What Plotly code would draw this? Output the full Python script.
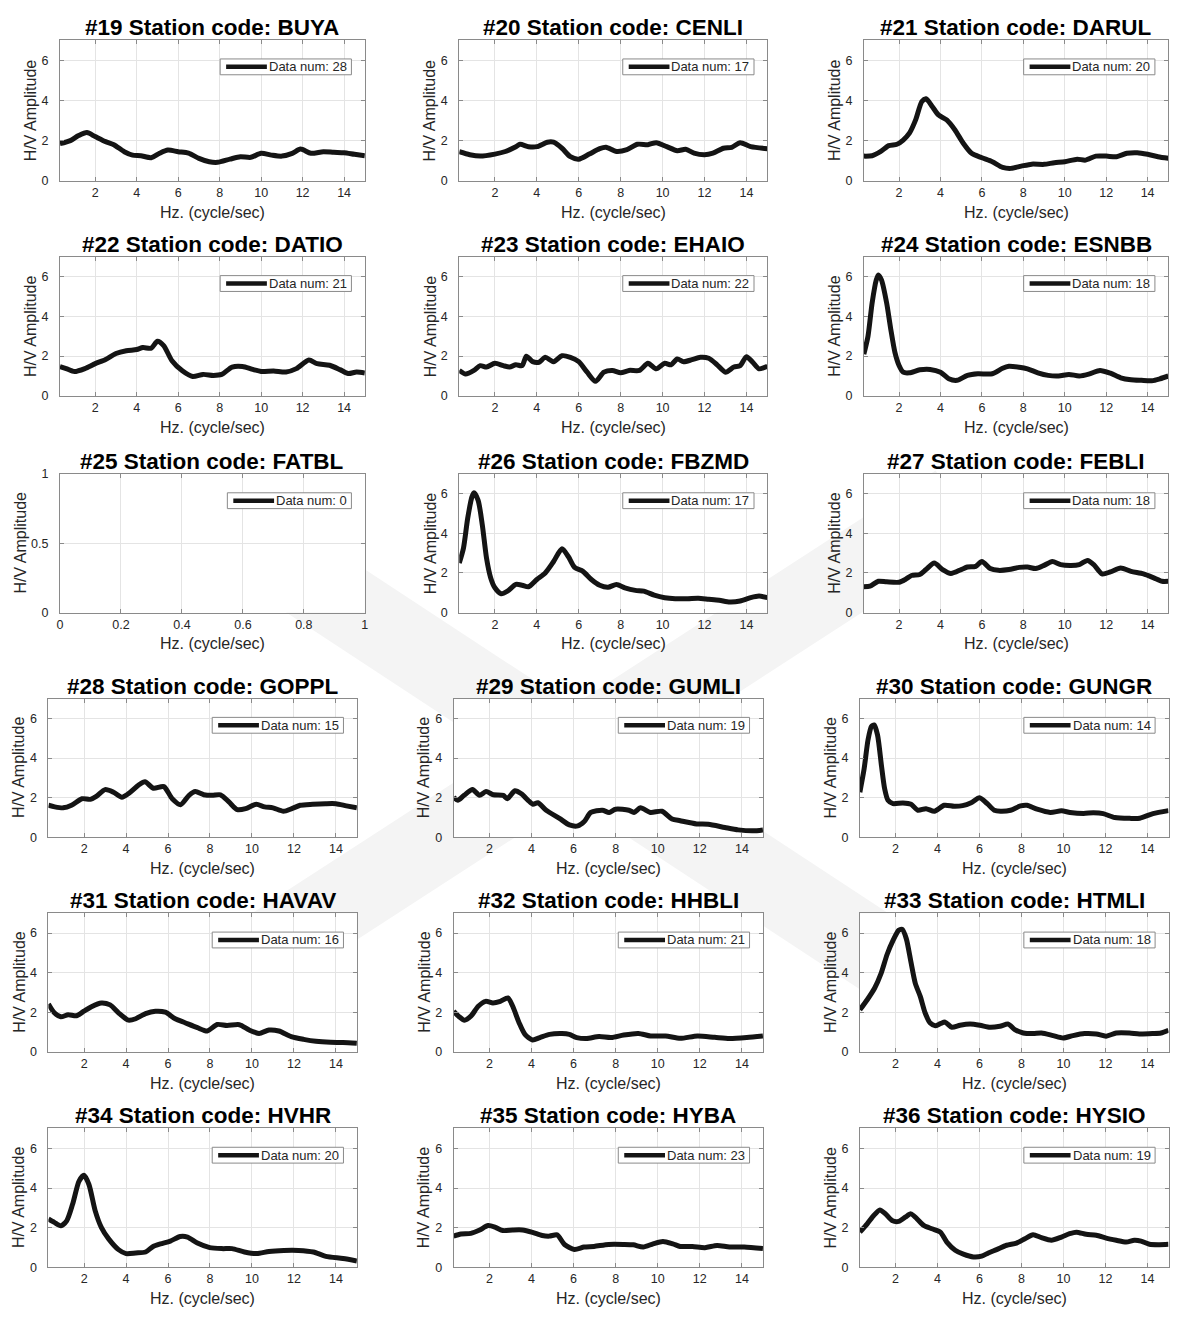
import plotly.graph_objects as go

W, H = 1177, 1320
FONT = "Liberation Sans, Arial, Helvetica, sans-serif"
INK = "#262626"
FRAME = "#8a8a8a"
GRID = "#e4e4e4"
CURVE = "#141414"

# ---------------------------------------------------------------- data
station_no = list(range(19, 37))
station_code = ["BUYA", "CENLI", "DARUL", "DATIO", "EHAIO", "ESNBB",
                "FATBL", "FBZMD", "FEBLI", "GOPPL", "GUMLI", "GUNGR",
                "HAVAV", "HHBLI", "HTMLI", "HVHR", "HYBA", "HYSIO"]
data_num = [28, 17, 20, 21, 22, 18, 0, 17, 18, 15, 19, 14, 16, 21, 18, 20, 23, 19]

hz_19 = [0.3, 0.8, 1.2, 1.6, 2.0, 2.5, 2.9, 3.4, 3.8, 4.2, 4.7, 5.1, 5.5, 6.0, 6.5, 7.0,
         7.5, 7.9, 8.5, 9.0, 9.5, 10.0, 10.5, 11.0, 11.5, 11.9, 12.4, 13.0, 13.5, 14.0, 14.5, 15.0]
hv_19 = [1.85, 2.0, 2.25, 2.4, 2.2, 1.95, 1.8, 1.45, 1.28, 1.25, 1.15, 1.37, 1.53, 1.45, 1.38, 1.12,
         0.95, 0.92, 1.08, 1.2, 1.17, 1.37, 1.28, 1.23, 1.37, 1.58, 1.37, 1.45, 1.42, 1.4, 1.32, 1.25]

hz_20 = [0.3, 0.8, 1.3, 2.0, 2.5, 3.0, 3.2, 3.6, 4.0, 4.5, 4.8, 5.2, 5.6, 6.0, 6.5, 7.0, 7.3,
         7.8, 8.3, 8.8, 9.3, 9.7, 10.2, 10.7, 11.1, 11.5, 12.0, 12.4, 12.9, 13.3, 13.7, 14.2, 15.0]
hv_20 = [1.45, 1.3, 1.23, 1.33, 1.46, 1.7, 1.82, 1.7, 1.7, 1.92, 1.92, 1.62, 1.2, 1.08, 1.33, 1.6, 1.67,
         1.46, 1.55, 1.82, 1.8, 1.9, 1.7, 1.5, 1.57, 1.38, 1.3, 1.38, 1.62, 1.67, 1.9, 1.7, 1.6]

hz_21 = [0.3, 0.7, 1.1, 1.5, 1.9, 2.2, 2.5, 2.8, 3.1, 3.3, 3.6, 3.9, 4.3, 4.7, 5.1, 5.5, 6.0, 6.5,
         7.0, 7.4, 7.9, 8.4, 9.0, 9.5, 10.0, 10.6, 11.0, 11.5, 12.0, 12.5, 13.0, 13.5, 14.0, 14.5, 15.0]
hv_21 = [1.23, 1.25, 1.45, 1.75, 1.82, 2.03, 2.37, 3.03, 3.95, 4.08, 3.7, 3.28, 3.03, 2.53, 1.87, 1.37, 1.15, 0.95,
         0.67, 0.62, 0.73, 0.83, 0.82, 0.9, 0.95, 1.08, 1.03, 1.23, 1.23, 1.2, 1.37, 1.4, 1.32, 1.2, 1.12]

hz_22 = [0.3, 0.6, 1.0, 1.5, 2.0, 2.5, 3.0, 3.5, 4.0, 4.3, 4.7, 5.0, 5.3, 5.7, 6.2, 6.7, 7.2,
         7.7, 8.1, 8.6, 9.1, 9.6, 10.0, 10.6, 11.2, 11.7, 12.3, 12.7, 13.3, 13.8, 14.2, 14.6, 15.0]
hv_22 = [1.47, 1.37, 1.22, 1.37, 1.62, 1.83, 2.13, 2.27, 2.33, 2.43, 2.4, 2.75, 2.53, 1.77, 1.26, 0.97, 1.08,
         1.03, 1.08, 1.45, 1.48, 1.33, 1.23, 1.25, 1.2, 1.37, 1.8, 1.62, 1.54, 1.32, 1.12, 1.2, 1.15]

hz_23 = [0.3, 0.6, 1.0, 1.3, 1.6, 2.0, 2.4, 2.7, 3.0, 3.3, 3.5, 3.8, 4.1, 4.4, 4.8, 5.2, 5.6, 6.0, 6.4, 6.8,
         7.2, 7.6, 8.0, 8.4, 8.9, 9.3, 9.7, 10.1, 10.4, 10.7, 11.0, 11.4, 11.8, 12.2, 12.6, 13.0, 13.4,
         13.7, 14.0, 14.3, 14.6, 15.0]
hv_23 = [1.28, 1.1, 1.28, 1.52, 1.45, 1.64, 1.52, 1.45, 1.56, 1.52, 1.99, 1.72, 1.69, 1.94, 1.72, 2.02, 1.94,
         1.72, 1.19, 0.73, 1.19, 1.28, 1.16, 1.28, 1.28, 1.64, 1.36, 1.64, 1.56, 1.86, 1.72, 1.82, 1.94,
         1.89, 1.56, 1.19, 1.45, 1.52, 1.97, 1.69, 1.36, 1.49]

hz_24 = [0.3, 0.5, 0.7, 0.9, 1.0, 1.15, 1.4, 1.6, 1.8, 2.0, 2.2, 2.5, 3.0, 3.5, 4.0, 4.4, 4.8, 5.3, 5.8,
         6.5, 7.0, 7.3, 7.8, 8.2, 8.7, 9.2, 9.7, 10.2, 10.7, 11.2, 11.7, 12.2, 12.7, 13.2, 13.7, 14.2,
         14.6, 15.0]
hv_24 = [2.1, 3.0, 4.68, 5.84, 6.09, 5.84, 4.68, 3.35, 2.19, 1.53, 1.19, 1.16, 1.31, 1.33, 1.19, 0.86, 0.78,
         1.03, 1.11, 1.11, 1.39, 1.49, 1.44, 1.36, 1.16, 1.03, 1.0, 1.08, 1.0, 1.11, 1.28, 1.14, 0.91, 0.81,
         0.78, 0.76, 0.86, 1.0]

hz_25 = []
hv_25 = []

hz_26 = [0.3, 0.5, 0.7, 0.9, 1.0, 1.2, 1.4, 1.6, 1.8, 2.0, 2.3, 2.6, 3.0, 3.3, 3.6, 4.0, 4.4, 4.8, 5.2,
         5.5, 5.8, 6.2, 6.6, 7.0, 7.4, 7.8, 8.2, 8.7, 9.1, 9.6, 10.1, 10.6, 11.2, 11.7, 12.2, 12.7, 13.2,
         13.7, 14.2, 14.6, 15.0]
hv_26 = [2.5, 3.25, 4.75, 5.83, 6.05, 5.67, 4.42, 2.75, 1.75, 1.25, 0.95, 1.08, 1.42, 1.38, 1.3, 1.67, 2.0,
         2.58, 3.22, 2.83, 2.28, 2.08, 1.67, 1.38, 1.28, 1.42, 1.25, 1.12, 1.08, 0.88, 0.75, 0.7, 0.7, 0.72,
         0.67, 0.62, 0.53, 0.58, 0.75, 0.83, 0.75]

hz_27 = [0.3, 0.6, 1.0, 1.4, 2.0, 2.3, 2.6, 3.0, 3.3, 3.7, 4.1, 4.5, 5.0, 5.3, 5.7, 6.0, 6.4, 6.8, 7.3,
         7.8, 8.2, 8.6, 9.0, 9.4, 9.8, 10.3, 10.7, 11.1, 11.4, 11.8, 12.2, 12.7, 13.2, 13.8, 14.3, 14.7, 15.0]
hv_27 = [1.3, 1.33, 1.58, 1.55, 1.53, 1.67, 1.87, 1.92, 2.17, 2.5, 2.17, 1.97, 2.17, 2.3, 2.33, 2.58, 2.22,
         2.13, 2.17, 2.28, 2.3, 2.22, 2.38, 2.58, 2.42, 2.38, 2.42, 2.63, 2.42, 1.95, 2.05, 2.25, 2.08,
         1.95, 1.75, 1.58, 1.58]

hz_28 = [0.3, 0.6, 1.0, 1.4, 1.9, 2.3, 2.6, 3.0, 3.4, 3.8, 4.2, 4.6, 4.9, 5.3, 5.8, 6.2, 6.6, 7.0, 7.3,
         7.7, 8.1, 8.5, 8.9, 9.3, 9.7, 10.2, 10.6, 11.0, 11.5, 11.9, 12.3, 12.9, 13.5, 14.0, 14.5, 15.0]
hv_28 = [1.62, 1.54, 1.49, 1.62, 1.95, 1.92, 2.08, 2.41, 2.28, 2.03, 2.28, 2.64, 2.81, 2.48, 2.56, 1.95,
         1.65, 2.12, 2.31, 2.15, 2.12, 2.15, 1.79, 1.4, 1.45, 1.67, 1.54, 1.49, 1.32, 1.45, 1.62, 1.67,
         1.7, 1.7, 1.59, 1.49]

hz_29 = [0.3, 0.5, 0.8, 1.2, 1.53, 1.84, 2.19, 2.66, 2.85, 3.21, 3.52, 3.84, 4.07, 4.31, 4.7, 5.33, 5.8,
         6.2, 6.51, 6.82, 7.37, 7.69, 8.0, 8.63, 8.87, 9.18, 9.65, 10.2, 10.68, 11.07, 11.85, 12.4, 13.19,
         13.82, 14.53, 15.0]
hv_29 = [2.03, 1.87, 2.12, 2.41, 2.12, 2.31, 2.15, 2.12, 1.95, 2.35, 2.2, 1.87, 1.67, 1.75, 1.37, 0.96, 0.63,
         0.58, 0.8, 1.26, 1.37, 1.26, 1.42, 1.37, 1.26, 1.49, 1.26, 1.32, 0.93, 0.84, 0.68, 0.66, 0.5, 0.38,
         0.33, 0.38]

hz_30 = [0.3, 0.5, 0.69, 0.85, 0.98, 1.14, 1.33, 1.48, 1.64, 1.88, 2.35, 2.74, 3.06, 3.45, 3.85, 4.32, 4.79,
         5.19, 5.6, 6.0, 6.37, 6.7, 7.0, 7.48, 7.95, 8.26, 8.74, 9.37, 9.9, 10.31, 10.95, 11.42, 11.89,
         12.44, 13.15, 13.63, 14.26, 15.0]
hv_30 = [2.28, 3.44, 4.93, 5.59, 5.67, 5.17, 3.6, 2.45, 1.87, 1.7, 1.74, 1.67, 1.37, 1.45, 1.32, 1.62, 1.57,
         1.6, 1.75, 2.0, 1.7, 1.37, 1.32, 1.37, 1.59, 1.62, 1.42, 1.26, 1.34, 1.26, 1.21, 1.24, 1.2,
         1.0, 0.96, 0.97, 1.2, 1.35]

hz_31 = [0.3, 0.58, 0.89, 1.24, 1.64, 1.99, 2.35, 2.82, 3.24, 3.64, 4.11, 4.46, 4.93, 5.4, 5.87, 6.34,
         6.81, 7.4, 7.87, 8.34, 8.81, 9.4, 9.87, 10.34, 10.81, 11.28, 11.87, 12.46, 13.05, 13.75, 14.34, 15.0]
hv_31 = [2.42, 1.97, 1.77, 1.87, 1.82, 2.05, 2.28, 2.47, 2.37, 1.97, 1.6, 1.67, 1.93, 2.05, 2.0, 1.67,
         1.47, 1.22, 1.05, 1.38, 1.33, 1.37, 1.1, 0.93, 1.1, 1.05, 0.77, 0.63, 0.53, 0.48, 0.47, 0.43]

hz_32 = [0.3, 0.53, 0.82, 1.12, 1.47, 1.82, 2.17, 2.52, 2.88, 3.11, 3.41, 3.69, 4.05, 4.4, 4.86, 5.45,
         5.8, 6.15, 6.62, 7.21, 7.79, 8.38, 9.08, 9.66, 10.37, 11.07, 11.89, 12.71, 13.41, 14.23, 15.0]
hv_32 = [2.05, 1.8, 1.6, 1.8, 2.3, 2.55, 2.47, 2.55, 2.72, 2.3, 1.47, 0.88, 0.6, 0.72, 0.88, 0.92,
         0.88, 0.72, 0.67, 0.77, 0.72, 0.85, 0.93, 0.8, 0.8, 0.68, 0.8, 0.73, 0.67, 0.72, 0.8]

hz_33 = [0.3, 0.65, 1.0, 1.31, 1.6, 1.88, 2.15, 2.31, 2.51, 2.73, 2.94, 3.18, 3.41, 3.65, 3.89, 4.13,
         4.36, 4.68, 5.07, 5.55, 6.02, 6.5, 6.97, 7.37, 7.68, 8.08, 8.55, 8.95, 9.5, 9.98, 10.45, 11.0,
         11.56, 12.03, 12.51, 13.14, 13.61, 14.24, 14.64, 15.0]
hv_33 = [2.12, 2.63, 3.21, 3.96, 4.93, 5.63, 6.14, 6.19, 5.72, 4.55, 3.46, 2.79, 1.96, 1.45, 1.32, 1.42,
         1.5, 1.24, 1.34, 1.4, 1.34, 1.24, 1.29, 1.4, 1.12, 0.95, 0.92, 0.95, 0.82, 0.7, 0.82, 0.92,
         0.9, 0.79, 0.95, 0.95, 0.9, 0.92, 0.95, 1.09]

hz_34 = [0.3, 0.58, 0.89, 1.17, 1.45, 1.76, 1.99, 2.23, 2.53, 2.82, 3.17, 3.64, 4.0, 4.46, 4.93, 5.29,
         5.64, 6.11, 6.58, 6.93, 7.4, 7.99, 8.58, 9.05, 9.64, 10.23, 10.81, 11.52, 12.22, 12.93, 13.52,
         14.34, 15.0]
hv_34 = [2.44, 2.27, 2.1, 2.35, 3.18, 4.35, 4.64, 4.18, 2.85, 2.02, 1.44, 0.9, 0.7, 0.73, 0.78, 1.06,
         1.19, 1.33, 1.56, 1.53, 1.23, 1.0, 0.95, 0.95, 0.78, 0.7, 0.81, 0.86, 0.86, 0.78, 0.56,
         0.45, 0.33]

hz_35 = [0.3, 0.65, 1.12, 1.54, 1.94, 2.29, 2.64, 3.11, 3.58, 4.05, 4.51, 4.86, 5.22, 5.57, 6.04, 6.5,
         6.97, 7.67, 8.38, 8.84, 9.31, 9.78, 10.25, 10.72, 11.07, 11.65, 12.24, 12.82, 13.41, 14.11, 15.0]
hv_35 = [1.58, 1.69, 1.72, 1.89, 2.11, 2.02, 1.86, 1.89, 1.89, 1.77, 1.61, 1.58, 1.64, 1.16, 0.91, 1.03,
         1.06, 1.16, 1.16, 1.14, 1.03, 1.19, 1.31, 1.19, 1.06, 1.06, 1.0, 1.11, 1.03, 1.03, 0.95]

hz_36 = [0.3, 0.65, 0.96, 1.25, 1.52, 1.83, 2.15, 2.46, 2.73, 3.02, 3.34, 3.73, 4.13, 4.44, 4.84, 5.23,
         5.71, 6.1, 6.42, 6.81, 7.29, 7.76, 8.16, 8.55, 8.95, 9.42, 9.9, 10.29, 10.61, 11.08, 11.56, 12.03,
         12.51, 12.98, 13.37, 13.69, 14.09, 14.56, 15.0]
hv_36 = [1.78, 2.2, 2.62, 2.9, 2.7, 2.37, 2.32, 2.53, 2.7, 2.45, 2.12, 1.95, 1.78, 1.28, 0.87, 0.67,
         0.53, 0.57, 0.73, 0.9, 1.12, 1.23, 1.45, 1.65, 1.5, 1.37, 1.53, 1.7, 1.78, 1.67, 1.62, 1.48,
         1.37, 1.28, 1.37, 1.33, 1.17, 1.15, 1.17]

curves = [(hz_19, hv_19), (hz_20, hv_20), (hz_21, hv_21), (hz_22, hv_22), (hz_23, hv_23),
          (hz_24, hv_24), (hz_25, hv_25), (hz_26, hv_26), (hz_27, hv_27), (hz_28, hv_28),
          (hz_29, hv_29), (hz_30, hv_30), (hz_31, hv_31), (hz_32, hv_32), (hz_33, hv_33),
          (hz_34, hv_34), (hz_35, hv_35), (hz_36, hv_36)]

hz_ticks = [2, 4, 6, 8, 10, 12, 14]
hv_ticks = [0, 2, 4, 6]
unit_ticks_x = [0, 0.2, 0.4, 0.6, 0.8, 1]
unit_ticks_y = [0, 0.5, 1]

# ---------------------------------------------------------------- panel frames (px)
upper_cols = [(57.3, 364.0), (459.0, 769.0), (866.0, 1172.3)]
upper_rows = [(33.5, 175.7), (252.5, 393.0), (472.0, 612.0)]
lower_cols = [(45.7, 356.0), (453.3, 764.5), (862.0, 1172.5)]
lower_rows = [(699.0, 839.3), (916.0, 1056.0), (1133.5, 1274.0)]

frames = []
for r in range(6):
    cols = upper_cols if r < 3 else lower_cols
    rows = upper_rows if r < 3 else lower_rows
    top, bot = rows[r % 3]
    for left, right in cols:
        frames.append((left, right, top, bot))


def fx(px):
    return px / W


def fy(py):
    return 1 - py / H


fig = go.Figure()
shapes = []
annotations = []

# faint background emblem, hidden behind the white plot areas
emblem_bands = [((250, 541), (900, 970)), ((960, 502), (250, 964))]
for (x0, y0), (x1, y1) in emblem_bands:
    dx, dy = x1 - x0, y1 - y0
    ln = (dx * dx + dy * dy) ** 0.5
    nx, ny = -dy / ln * 40, dx / ln * 40
    pts = [(x0 + nx, y0 + ny), (x1 + nx, y1 + ny), (x1 - nx, y1 - ny), (x0 - nx, y0 - ny)]
    path = "M " + " L ".join(f"{fx(px):.5f},{fy(py):.5f}" for px, py in pts) + " Z"
    shapes.append(dict(type="path", path=path, xref="paper", yref="paper", layer="below",
                       fillcolor="#f4f4f4", line=dict(width=0)))
for left, right, top, bot in frames:
    shapes.append(dict(type="rect", xref="paper", yref="paper", layer="below",
                       x0=fx(left), x1=fx(right), y0=fy(bot), y1=fy(top),
                       fillcolor="white", line=dict(width=0)))

axis_style = dict(showline=True, linecolor=FRAME, linewidth=1, mirror="ticks",
                  ticks="inside", ticklen=4, tickwidth=1, tickcolor=FRAME,
                  showgrid=True, gridcolor=GRID, gridwidth=1, zeroline=False,
                  tickfont=dict(family=FONT, size=12.5, color=INK), fixedrange=True)

layout_axes = {}
for i, ((left, right, top, bot), no, code, n, (hz, hv)) in enumerate(
        zip(frames, station_no, station_code, data_num, curves)):
    k = "" if i == 0 else str(i + 1)
    empty = n == 0

    fig.add_trace(go.Scatter(
        x=hz, y=hv, mode="lines", xaxis="x" + k, yaxis="y" + k,
        line=dict(color=CURVE, width=5, shape="spline", smoothing=0.7),
        showlegend=False, hoverinfo="skip"))

    layout_axes["xaxis" + k] = dict(
        domain=[fx(left), fx(right)], anchor="y" + k,
        range=[0, 1] if empty else [0.3, 15],
        tickvals=unit_ticks_x if empty else hz_ticks, **axis_style)
    layout_axes["yaxis" + k] = dict(
        domain=[fy(bot), fy(top)], anchor="x" + k,
        range=[0, 1] if empty else [0, 7], ticklabelstandoff=8,
        tickvals=unit_ticks_y if empty else hv_ticks, **axis_style)

    cx = (left + right) / 2
    # panel title
    annotations.append(dict(
        text=f"<b>#{no} Station code: {code}</b>", xref="paper", yref="paper",
        x=fx(cx), y=fy(top), xanchor="center", yanchor="bottom", yshift=-2,
        showarrow=False, font=dict(family=FONT, size=22.5, color="#000000")))
    # axis titles
    annotations.append(dict(
        text="Hz. (cycle/sec)", xref="paper", yref="paper",
        x=fx(cx), y=fy(bot + 21), xanchor="center", yanchor="top",
        showarrow=False, font=dict(family=FONT, size=16, color=INK)))
    annotations.append(dict(
        text="H/V Amplitude", xref="paper", yref="paper", textangle=-90,
        x=fx(left - (40 if empty else 29.5)), y=fy((top + bot) / 2),
        xanchor="center", yanchor="middle",
        showarrow=False, font=dict(family=FONT, size=16, color=INK)))

    # legend box
    label = f"Data num: {n}"
    text_em = 4.891 + 0.556 * len(str(n))
    box_w = 48 + 13 * text_em + 6
    bx1 = right - 13.5
    bx0 = bx1 - box_w
    by0 = top + 19
    by1 = by0 + 16
    shapes.append(dict(type="rect", xref="paper", yref="paper", layer="above",
                       x0=fx(bx0), x1=fx(bx1), y0=fy(by1), y1=fy(by0),
                       fillcolor="white", line=dict(color=FRAME, width=1)))
    shapes.append(dict(type="line", xref="paper", yref="paper", layer="above",
                       x0=fx(bx0 + 6), x1=fx(bx0 + 47), y0=fy((by0 + by1) / 2), y1=fy((by0 + by1) / 2),
                       line=dict(color=CURVE, width=4.5)))
    annotations.append(dict(
        text=label, xref="paper", yref="paper",
        x=fx(bx0 + 48), y=fy((by0 + by1) / 2), xanchor="left", yanchor="middle",
        showarrow=False, borderpad=0, font=dict(family=FONT, size=13, color=INK)))

fig.update_layout(
    width=W, height=H, margin=dict(l=0, r=0, t=0, b=0),
    paper_bgcolor="white", plot_bgcolor="white", showlegend=False,
    shapes=shapes, annotations=annotations, **layout_axes)

fig.write_html("out.html")
